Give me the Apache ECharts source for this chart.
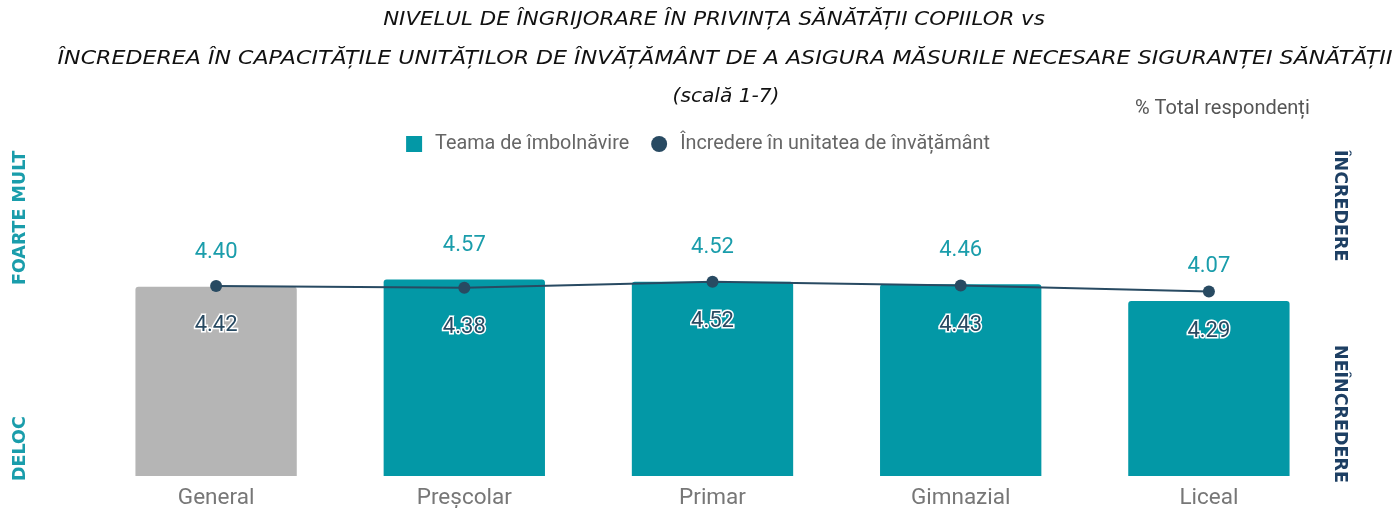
<!DOCTYPE html>
<html>
<head>
<meta charset="utf-8">
<script src="https://cdn.jsdelivr.net/npm/echarts@6/dist/echarts.min.js"></script>
<style>html,body{margin:0;padding:0;background:#fff}#c{width:1396px;height:508px}</style>
</head>
<body>
<div id="c"></div>
<script>
const categories = ['General', 'Preșcolar', 'Primar', 'Gimnazial', 'Liceal'];
const fearValues = [4.40, 4.57, 4.52, 4.46, 4.07];
const trustValues = [4.42, 4.38, 4.52, 4.43, 4.29];
const seriesNames = ['Teama de îmbolnăvire', 'Încredere în unitatea de învățământ'];
const titleLines = [
  'NIVELUL DE ÎNGRIJORARE ÎN PRIVINȚA SĂNĂTĂȚII COPIILOR vs',
  'ÎNCREDEREA ÎN CAPACITĂȚILE UNITĂȚILOR DE ÎNVĂȚĂMÂNT DE A ASIGURA MĂSURILE NECESARE SIGURANȚEI SĂNĂTĂȚII',
  '(scală 1-7)'
];

const TEAL = '#0398a6';
const GRAY = '#b5b5b5';
const NAVY = '#284a62';
const TITLE_CX = [714, 725, 726];
const TITLE_CY = [20, 59, 97];
const TITLE_SCALE = [1.124, 1.164, 1.06];

const sideFont = 'bold 17.5px "DejaVu Sans"';

const graphics = titleLines.map((t, i) => ({
  type: 'text',
  x: TITLE_CX[i],
  y: TITLE_CY[i],
  scaleX: TITLE_SCALE[i],
  style: {
    text: t,
    font: 'italic 19px "DejaVu Sans"',
    fill: '#111',
    align: 'center',
    verticalAlign: 'middle'
  }
})).concat([
  { type: 'text', x: 1135, y: 109, style: { text: '% Total respondenți', font: '20px Roboto', fill: '#555', align: 'left', verticalAlign: 'middle' } },
  { type: 'text', x: 20, y: 285, rotation: Math.PI / 2, style: { text: 'FOARTE MULT', font: sideFont, fill: '#1a9dab', align: 'left', verticalAlign: 'middle' } },
  { type: 'text', x: 20, y: 481, rotation: Math.PI / 2, style: { text: 'DELOC', font: sideFont, fill: '#1a9dab', align: 'left', verticalAlign: 'middle' } },
  { type: 'text', x: 1340, y: 150, rotation: -Math.PI / 2, style: { text: 'ÎNCREDERE', font: sideFont, fill: '#1d3f63', align: 'left', verticalAlign: 'middle' } },
  { type: 'text', x: 1340, y: 345, rotation: -Math.PI / 2, style: { text: 'NEÎNCREDERE', font: sideFont, fill: '#1d3f63', align: 'left', verticalAlign: 'middle' } }
]);

const chart = echarts.init(document.getElementById('c'));
chart.setOption({
  backgroundColor: '#fff',
  animation: false,
  legend: {
    top: 129,
    left: 'center',
    itemWidth: 16,
    itemHeight: 16,
    itemGap: 22,
    textStyle: { fontFamily: 'Roboto', fontSize: 19.8, color: '#666', padding: [0, 0, 0, 8] },
    data: [
      { name: seriesNames[0], icon: 'rect' },
      { name: seriesNames[1], icon: 'circle' }
    ]
  },
  grid: { left: 92, right: 63, top: 175, bottom: 32, containLabel: false, outerBoundsMode: 'none' },
  xAxis: {
    type: 'category',
    data: categories,
    axisLine: { show: false },
    axisTick: { show: false },
    axisLabel: { fontFamily: 'Roboto', fontSize: 22.5, color: '#777', margin: 11 }
  },
  yAxis: {
    type: 'value',
    min: 0,
    max: 7,
    show: false
  },
  graphic: graphics,
  series: [
    {
      name: seriesNames[0],
      type: 'bar',
      barWidth: '65%',
      itemStyle: { color: TEAL, borderRadius: [3, 3, 0, 0] },
      data: fearValues.map((v, i) => i === 0 ? { value: v, itemStyle: { color: GRAY } } : v),
      label: {
        show: true,
        position: 'top',
        distance: 23,
        formatter: p => p.value.toFixed(2),
        fontFamily: 'Roboto',
        fontSize: 22,
        color: '#1a9dab'
      },
      z: 2
    },
    {
      name: seriesNames[1],
      type: 'line',
      data: trustValues,
      symbol: 'circle',
      symbolSize: 12,
      lineStyle: { color: NAVY, width: 2 },
      itemStyle: { color: NAVY },
      label: {
        show: true,
        position: 'bottom',
        distance: 23,
        formatter: p => p.value.toFixed(2),
        fontFamily: 'Roboto',
        fontSize: 22,
        color: NAVY,
        textBorderColor: '#fff',
        textBorderWidth: 3
      },
      z: 3
    }
  ]
});
</script>
</body>
</html>
